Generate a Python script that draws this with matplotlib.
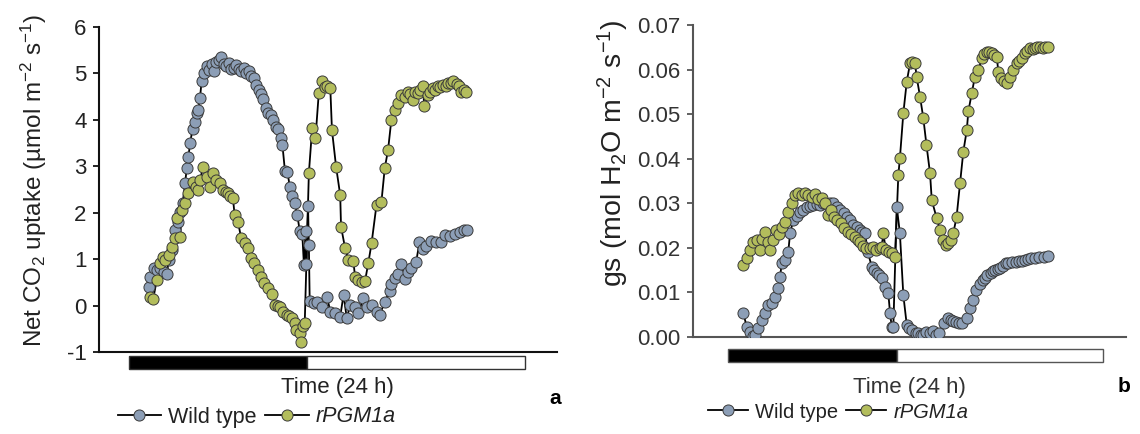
import matplotlib
matplotlib.use("Agg")
import matplotlib.pyplot as plt
from matplotlib.patches import Rectangle
from matplotlib.lines import Line2D
from matplotlib.transforms import blended_transform_factory

plt.rcParams['font.family'] = ['Liberation Sans', 'DejaVu Sans']
plt.rcParams['mathtext.fontset'] = 'custom'
plt.rcParams['mathtext.rm'] = 'Liberation Sans'
plt.rcParams['mathtext.it'] = 'Liberation Sans:italic'
plt.rcParams['axes.unicode_minus'] = False

# time (h) , value
wt_co2 = [(1.2, 0.40), (1.3, 0.62), (1.5, 0.80), (1.7, 0.76), (1.9, 0.82), (2.1, 0.72), (2.3, 0.68),
          (2.4, 0.98), (2.6, 1.20), (2.8, 1.63), (2.95, 1.80), (3.1, 2.02), (3.25, 2.20), (3.4, 2.64),
          (3.5, 2.96), (3.6, 3.20), (3.7, 3.50), (3.85, 3.80), (4.0, 3.96), (4.1, 4.15), (4.2, 4.21),
          (4.3, 4.47), (4.4, 4.83), (4.55, 5.00), (4.7, 5.15), (4.85, 5.08), (5.0, 5.20), (5.15, 5.05),
          (5.3, 5.25), (5.45, 5.30), (5.6, 5.36), (5.75, 5.20), (5.9, 5.15), (6.05, 5.22), (6.2, 5.10),
          (6.35, 5.12), (6.5, 5.18), (6.65, 5.10), (6.8, 5.05), (6.95, 5.12), (7.1, 5.00), (7.25, 5.05),
          (7.4, 4.95), (7.55, 4.90), (7.7, 4.75), (7.85, 4.65), (8.0, 4.55), (8.15, 4.45), (8.3, 4.25),
          (8.45, 4.15), (8.6, 4.10), (8.75, 4.00), (8.9, 3.85), (9.05, 3.80), (9.2, 3.60), (9.3, 3.45),
          (9.45, 2.90), (9.6, 2.88), (9.75, 2.55), (9.9, 2.35), (10.05, 2.20), (10.2, 1.95), (10.35, 1.60),
          (10.5, 1.55), (10.6, 0.88), (10.7, 1.60), (10.75, 0.90), (10.85, 2.15), (10.9, 1.30), (10.95, 0.10),
          (11.2, 0.05), (11.4, 0.08), (11.7, -0.02), (12.0, 0.19), (12.2, -0.13), (12.5, -0.16), (12.8, -0.24),
          (13.0, 0.23), (13.2, -0.27), (13.4, 0.01), (13.7, -0.02), (13.9, -0.16), (14.2, 0.16), (14.4, -0.04),
          (14.7, 0.01), (15.0, -0.13), (15.2, -0.20), (15.5, 0.08), (15.8, 0.32), (15.9, 0.47), (16.1, 0.59),
          (16.3, 0.69), (16.5, 0.90), (16.7, 0.58), (16.9, 0.73), (17.1, 0.80), (17.4, 0.93), (17.6, 1.36),
          (17.8, 1.22), (18.0, 1.29), (18.3, 1.40), (18.6, 1.36), (18.9, 1.38), (19.15, 1.53), (19.45, 1.50),
          (19.75, 1.55), (20.05, 1.58), (20.3, 1.62), (20.5, 1.62)]

rpgm_co2 = [(1.27, 0.19), (1.47, 0.15), (1.68, 0.55), (1.88, 0.91), (2.05, 1.05), (2.18, 0.98), (2.4, 1.10),
            (2.6, 1.27), (2.8, 1.45), (2.9, 1.88), (3.1, 1.48), (3.2, 2.06), (3.4, 2.20), (3.6, 2.42),
            (3.9, 2.67), (4.05, 2.55), (4.2, 2.49), (4.3, 2.71), (4.5, 2.99), (4.7, 2.78), (4.9, 2.56),
            (5.1, 2.85), (5.3, 2.71), (5.5, 2.64), (5.7, 2.49), (5.85, 2.45), (6.0, 2.42), (6.15, 2.35),
            (6.3, 2.31), (6.4, 1.95), (6.6, 1.81), (6.8, 1.45), (7.0, 1.34), (7.2, 1.23), (7.4, 1.02),
            (7.6, 0.91), (7.8, 0.77), (8.0, 0.62), (8.2, 0.48), (8.4, 0.37), (8.65, 0.26), (8.85, 0.01),
            (9.0, 0.00), (9.15, -0.02), (9.35, -0.13), (9.55, -0.20), (9.7, -0.22), (9.85, -0.27),
            (10.05, -0.38), (10.15, -0.53), (10.35, -0.60), (10.45, -0.78), (10.55, -0.45), (10.65, -0.38),
            (10.9, 2.85), (11.1, 3.82), (11.3, 3.60), (11.5, 4.57), (11.7, 4.83), (11.85, 4.70), (12.0, 4.72),
            (12.2, 4.68), (12.3, 3.78), (12.55, 2.99), (12.8, 2.38), (12.85, 1.70), (13.1, 1.23), (13.3, 0.98),
            (13.6, 0.95), (13.7, 0.62), (13.9, 0.55), (14.1, 0.50), (14.3, 0.52), (14.5, 0.91), (14.7, 1.34),
            (15.0, 2.17), (15.3, 2.24), (15.5, 2.96), (15.7, 3.35), (15.9, 4.00), (16.1, 4.21), (16.3, 4.36),
            (16.5, 4.54), (16.7, 4.50), (16.9, 4.61), (17.05, 4.55), (17.2, 4.43), (17.35, 4.60), (17.5, 4.57),
            (17.65, 4.65), (17.8, 4.72), (17.9, 4.29), (18.1, 4.54), (18.25, 4.60), (18.4, 4.68), (18.55, 4.65),
            (18.7, 4.72), (18.85, 4.70), (19.0, 4.75), (19.2, 4.73), (19.35, 4.79), (19.5, 4.80), (19.65, 4.83),
            (19.85, 4.78), (20.0, 4.72), (20.1, 4.61), (20.3, 4.65), (20.45, 4.61)]

wt_gs = [(0.98, 0.0053), (1.2, 0.0023), (1.41, 0.0012), (1.6, 0.0003), (1.73, 0.0004), (1.94, 0.0020),
         (2.16, 0.0038), (2.37, 0.0053), (2.58, 0.0072), (2.8, 0.0076), (3.0, 0.0090), (3.2, 0.0109),
         (3.33, 0.0135), (3.44, 0.0165), (3.65, 0.0173), (3.86, 0.0191), (3.97, 0.0233), (4.18, 0.0262),
         (4.4, 0.0272), (4.6, 0.0281), (4.82, 0.0285), (5.04, 0.0292), (5.25, 0.0294), (5.46, 0.0296),
         (5.7, 0.0298), (5.9, 0.0296), (6.1, 0.0300), (6.3, 0.0299), (6.5, 0.0300), (6.74, 0.0300),
         (6.95, 0.0292), (7.17, 0.0285), (7.4, 0.0278), (7.6, 0.0270), (7.8, 0.0262), (8.02, 0.0251),
         (8.25, 0.0246), (8.45, 0.0240), (8.6, 0.0236), (8.77, 0.0233), (8.95, 0.0190), (9.2, 0.0158),
         (9.35, 0.0150), (9.52, 0.0143), (9.68, 0.0138), (9.84, 0.0132), (10.05, 0.0113), (10.26, 0.0098),
         (10.37, 0.0053), (10.48, 0.0023), (10.58, 0.0023), (10.8, 0.0292), (11.0, 0.0233), (11.22, 0.0094),
         (11.44, 0.0027), (11.6, 0.0020), (11.76, 0.0016), (12.0, 0.0008), (12.18, 0.0008), (12.35, 0.0004),
         (12.5, 0.0004), (12.7, 0.0012), (12.9, 0.0008), (13.1, 0.0014), (13.3, 0.0005), (13.5, 0.0010),
         (13.8, 0.0031), (14.1, 0.0042), (14.25, 0.0038), (14.4, 0.0035), (14.6, 0.0033), (14.8, 0.0031),
         (15.0, 0.0031), (15.3, 0.0042), (15.5, 0.0064), (15.7, 0.0083), (15.9, 0.0105), (16.1, 0.0120),
         (16.3, 0.0127), (16.45, 0.0132), (16.6, 0.0138), (16.8, 0.0143), (16.95, 0.0147), (17.1, 0.0150),
         (17.25, 0.0152), (17.4, 0.0154), (17.6, 0.0160), (17.8, 0.0165), (17.95, 0.0167), (18.15, 0.0169),
         (18.4, 0.0169), (18.6, 0.0170), (18.8, 0.0171), (19.0, 0.0173), (19.2, 0.0175), (19.4, 0.0177),
         (19.65, 0.0178), (19.9, 0.0180), (20.2, 0.0180), (20.5, 0.0181)]

rpgm_gs = [(0.98, 0.0162), (1.2, 0.0177), (1.41, 0.0195), (1.62, 0.0214), (1.84, 0.0218), (2.05, 0.0195),
           (2.2, 0.0220), (2.37, 0.0236), (2.58, 0.0214), (2.69, 0.0195), (2.9, 0.0218), (3.1, 0.0240),
           (3.25, 0.0232), (3.44, 0.0247), (3.65, 0.0259), (3.86, 0.0281), (4.08, 0.0300), (4.29, 0.0319),
           (4.5, 0.0322), (4.72, 0.0319), (4.93, 0.0322), (5.15, 0.0318), (5.36, 0.0315), (5.57, 0.0320),
           (5.78, 0.0310), (6.0, 0.0312), (6.2, 0.0300), (6.42, 0.0274), (6.6, 0.0285), (6.8, 0.0270),
           (7.0, 0.0262), (7.2, 0.0255), (7.45, 0.0245), (7.7, 0.0236), (7.9, 0.0230), (8.1, 0.0225),
           (8.3, 0.0218), (8.45, 0.0214), (8.65, 0.0205), (8.85, 0.0200), (9.1, 0.0199), (9.3, 0.0202),
           (9.5, 0.0196), (9.7, 0.0200), (9.84, 0.0203), (9.94, 0.0233), (10.1, 0.0195), (10.3, 0.0190),
           (10.48, 0.0188), (10.69, 0.0180), (10.9, 0.0363), (11.0, 0.0401), (11.22, 0.0502), (11.44, 0.0573),
           (11.65, 0.0614), (11.8, 0.0618), (11.97, 0.0614), (12.07, 0.0584), (12.29, 0.0539), (12.5, 0.0491),
           (12.7, 0.0431), (12.93, 0.0367), (13.04, 0.0307), (13.36, 0.0266), (13.57, 0.0240), (13.78, 0.0218),
           (13.95, 0.0206), (14.1, 0.0210), (14.25, 0.0218), (14.42, 0.0233), (14.63, 0.0270), (14.85, 0.0345),
           (15.06, 0.0416), (15.28, 0.0464), (15.38, 0.0506), (15.6, 0.0547), (15.8, 0.0584), (16.02, 0.0599),
           (16.24, 0.0625), (16.4, 0.0635), (16.56, 0.0640), (16.72, 0.0640), (16.88, 0.0637), (17.05, 0.0632),
           (17.2, 0.0629), (17.3, 0.0595), (17.5, 0.0580), (17.65, 0.0575), (17.84, 0.0569), (18.05, 0.0584),
           (18.26, 0.0599), (18.48, 0.0614), (18.65, 0.0620), (18.8, 0.0625), (19.0, 0.0637), (19.15, 0.0642),
           (19.33, 0.0648), (19.5, 0.0646), (19.65, 0.0648), (19.8, 0.0650), (19.97, 0.0651), (20.15, 0.0649),
           (20.3, 0.0651), (20.5, 0.0651)]

dark_end = 10.8   # end of dark period on the 24 h bar
series_names = ['Wild type', 'rPGM1a']
wt_color = '#8C9EB6'
rpgm_color = '#B3BD5C'

fig = plt.figure(figsize=(11.4, 4.34), dpi=100)
W, H = 1140, 434


def px_axes(l, t, r, b):
    return fig.add_axes([l / W, 1 - b / H, (r - l) / W, (b - t) / H])


def draw_series(ax, data, color):
    xs = [p[0] for p in data]
    ys = [p[1] for p in data]
    ax.plot(xs, ys, '-', color='black', lw=1.3, zorder=2)
    ax.plot(xs, ys, 'o', ms=8, mfc=color, mec='#3a3a3a', mew=0.7, zorder=3)


def time_bar(ax, y0, h, ec):
    tr = blended_transform_factory(ax.transData, ax.transAxes)
    ax.add_patch(Rectangle((0, y0), dark_end, h, transform=tr, fc='black', ec=ec, lw=1, clip_on=False))
    ax.add_patch(Rectangle((dark_end, y0), 24 - dark_end, h, transform=tr, fc='white', ec=ec, lw=1,
                           clip_on=False))


def style(ax, spine_col, tick_col):
    for s in ['top', 'right']:
        ax.spines[s].set_visible(False)
    for s in ['left', 'bottom']:
        ax.spines[s].set_color(spine_col)
        ax.spines[s].set_linewidth(1.5)
    ax.tick_params(axis='x', length=0, labelbottom=False)
    ax.tick_params(axis='y', length=4, width=1.3, color=spine_col, labelsize=16, labelcolor=tick_col, pad=5)


def legend(ax, x, y, size):
    handles = [Line2D([], [], color='black', lw=1.3, marker='o', ms=8, mfc=c, mec='#3a3a3a', mew=0.7)
               for c in (wt_color, rpgm_color)]
    leg = ax.legend(handles, series_names, loc='center', bbox_to_anchor=(x / W, 1 - y / H),
                    bbox_transform=fig.transFigure, ncol=2, frameon=False, fontsize=size,
                    handlelength=2.0, handletextpad=0.35, columnspacing=0.4)
    leg.get_texts()[1].set_style('italic')
    for t in leg.get_texts():
        t.set_color('#222222')


# panel a
ax1 = px_axes(99, 27, 557, 352)
draw_series(ax1, wt_co2, wt_color)
draw_series(ax1, rpgm_co2, rpgm_color)
ax1.set_xlim(-1.82, 25.94)
ax1.set_ylim(-1, 6)
ax1.set_yticks(range(-1, 7))
style(ax1, '#111111', '#222222')
time_bar(ax1, -0.052, 0.04, '#333333')
fig.text(34 / W, 1 - 180 / H, r'Net CO$_2$ uptake (µmol m$^{-2}$ s$^{-1}$)', rotation=90,
         ha='center', va='center', fontsize=17.5, color='#222222')
fig.text(337 / W, 1 - 387 / H, 'Time (24 h)', ha='center', va='center', fontsize=16, color='#222222')
fig.text(555 / W, 1 - 398 / H, 'a', ha='center', va='center', fontsize=15, fontweight='bold')
legend(ax1, 257, 417, 15.5)

# panel b
ax2 = px_axes(693, 25, 1126, 337)
draw_series(ax2, wt_gs, wt_color)
draw_series(ax2, rpgm_gs, rpgm_color)
ax2.set_xlim(-2.24, 25.47)
ax2.set_ylim(0, 0.07)
ax2.set_yticks([i / 100 for i in range(8)])
ax2.set_yticklabels([f'{i / 100:.2f}' for i in range(8)])
style(ax2, '#555555', '#333333')
time_bar(ax2, -0.080, 0.042, '#555555')
fig.text(613 / W, 1 - 153 / H, r'gs (mol H$_2$O m$^{-2}$ s$^{-1}$)', rotation=90,
         ha='center', va='center', fontsize=20.5, color='#222222')
fig.text(909 / W, 1 - 387 / H, 'Time (24 h)', ha='center', va='center', fontsize=16, color='#333333')
fig.text(1124 / W, 1 - 387 / H, 'b', ha='center', va='center', fontsize=15, fontweight='bold')
legend(ax2, 838, 412, 14.5)

fig.savefig('out.png', dpi=100)
